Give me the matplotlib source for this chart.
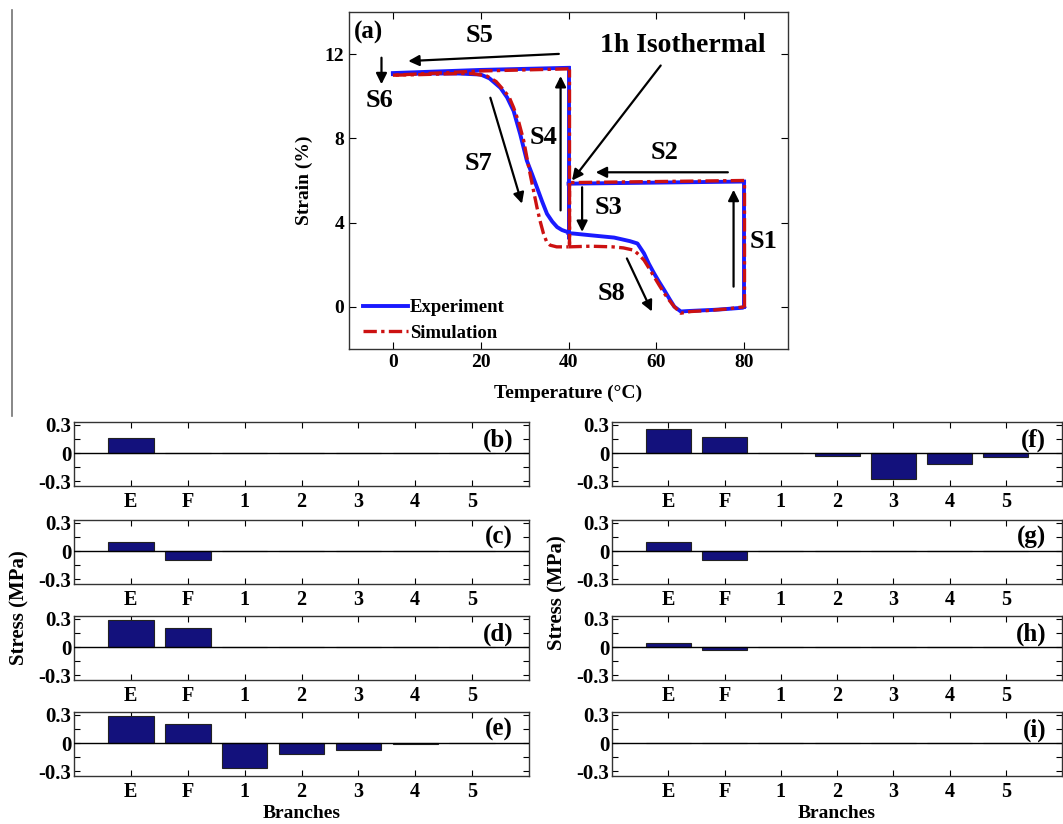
import matplotlib
matplotlib.use("Agg")
import matplotlib.pyplot as plt
from matplotlib.lines import Line2D
import numpy as np

plt.rcParams['font.family'] = ['Liberation Serif', 'DejaVu Serif']
plt.rcParams['font.weight'] = 'bold'
plt.rcParams['axes.labelweight'] = 'bold'

# ---------------- data: panel (a) ----------------
# Experiment path segments (temperature, strain %)
exp_s1_T = [80, 80];           exp_s1_e = [0.0, 5.95]
exp_s2_T = [80, 40];           exp_s2_e = [5.95, 5.85]
exp_s34_T = [40, 40, 40];      exp_s34_e = [5.85, 3.25, 11.35]
exp_s5_T = [40, 20, 0];        exp_s5_e = [11.35, 11.25, 11.1]
exp_s7_T = [0, 5, 10, 15, 20, 22, 24.5, 26, 27.5, 29, 30.5, 31.7, 32.8, 34,
            35.1, 36.3, 37.4, 38.5, 39.7]
exp_s7_e = [11.05, 11.07, 11.08, 11.08, 11.03, 10.85, 10.4, 9.95, 9.3, 8.2,
            6.95, 6.3, 5.68, 5.0, 4.42, 4.05, 3.79, 3.65, 3.56]
exp_s8_T = [40, 41.2, 45, 50.4, 54, 55.7, 57.2, 58.3, 59.5, 60.6, 61.8, 63,
            64.1, 65.6, 67, 70, 73.2, 76, 79.7, 80]
exp_s8_e = [3.5, 3.48, 3.4, 3.29, 3.12, 3.01, 2.54, 2.05, 1.59, 1.2, 0.80,
            0.38, 0.01, -0.22, -0.2, -0.17, -0.14, -0.1, -0.04, 0.0]

# Simulation path segments
sim_s1_T = [80, 80];           sim_s1_e = [0.0, 6.0]
sim_s2_T = [80, 40];           sim_s2_e = [6.0, 5.9]
sim_s34_T = [40, 40, 40];      sim_s34_e = [5.9, 3.0, 11.3]
sim_s5_T = [40, 20, 0];        sim_s5_e = [11.3, 11.2, 11.0]
sim_s7_T = [0, 5, 10, 15, 18, 21.4, 23.5, 25.2, 26.5, 27.5, 28.7, 29.8, 30.6,
            31.4, 32.1, 32.8, 33.5, 34.3, 35, 35.8, 37.3, 40]
sim_s7_e = [11.0, 11.02, 11.05, 11.08, 11.08, 10.96, 10.7, 10.3, 9.95, 9.46,
            8.75, 7.89, 7.0, 6.16, 5.45, 4.74, 4.1, 3.48, 3.1, 2.93, 2.85, 2.85]
sim_s8_T = [40, 45, 50, 52.5, 54.9, 56, 57.2, 58.3, 59.5, 60.6, 61.8, 63,
            64.1, 65.6, 67.9, 72, 76, 80]
sim_s8_e = [2.85, 2.88, 2.85, 2.8, 2.69, 2.48, 2.22, 1.85, 1.43, 1.05, 0.65,
            0.3, 0.01, -0.30, -0.22, -0.17, -0.1, 0.0]

# ---------------- data: bar panels ----------------
branches = ['E', 'F', '1', '2', '3', '4', '5']
stress_b = [0.16, 0, 0, 0, 0, 0, 0]
stress_c = [0.10, -0.10, 0, 0, 0, 0, 0]
stress_d = [0.29, 0.20, 0, 0, 0, 0, 0]
stress_e = [0.29, 0.20, -0.26, -0.115, -0.07, -0.015, 0]
stress_f = [0.26, 0.17, 0, -0.03, -0.275, -0.115, -0.045]
stress_g = [0.10, -0.10, 0, 0, 0, 0, 0]
stress_h = [0.04, -0.035, 0, 0, 0, 0, 0]
stress_i = [0, 0, 0, 0, 0, 0, 0]

W, H = 1063, 824
fig = plt.figure(figsize=(W / 100, H / 100), dpi=100)


def ax_px(left, top, right, bottom):
    return fig.add_axes([left / W, 1 - bottom / H, (right - left) / W, (bottom - top) / H])


BLUE = '#1a1aff'
RED = '#cc1111'
simstyle = (0, (4, 1.3, 1, 1.3))

# ---------------- panel (a) ----------------
ax = ax_px(349, 12, 788, 349)
exp_segs = [(exp_s1_T, exp_s1_e), (exp_s2_T, exp_s2_e), (exp_s34_T, exp_s34_e),
            (exp_s5_T, exp_s5_e), (exp_s7_T, exp_s7_e), (exp_s8_T, exp_s8_e)]
sim_segs = [(sim_s1_T, sim_s1_e), (sim_s2_T, sim_s2_e), (sim_s34_T, sim_s34_e),
            (sim_s5_T, sim_s5_e), (sim_s7_T, sim_s7_e), (sim_s8_T, sim_s8_e)]
for i, (t, e) in enumerate(exp_segs):
    ax.plot(t, e, color=BLUE, lw=2.8, solid_joinstyle='round',
            label='Experiment' if i == 0 else None, zorder=3)
for i, (t, e) in enumerate(sim_segs):
    ax.plot(t, e, color=RED, lw=2.4, linestyle=simstyle,
            label='Simulation' if i == 0 else None, zorder=4)

ax.set_xlim(-10, 90)
ax.set_ylim(-2, 14)
ax.set_xticks([0, 20, 40, 60, 80])
ax.set_yticks([0, 4, 8, 12])
ax.tick_params(direction='in', top=True, right=True, length=5, labelsize=14, width=0.8)
for lab in ax.get_xticklabels() + ax.get_yticklabels():
    lab.set_fontweight('bold')
ax.set_xlabel('Temperature (°C)', fontsize=14, fontweight='bold', labelpad=10)
ax.set_ylabel('Strain (%)', fontsize=14, fontweight='bold', labelpad=8)
for s in ax.spines.values():
    s.set_linewidth(1.0)
    s.set_color('#333333')

leg = ax.legend(loc='lower left', bbox_to_anchor=(0.0, -7 / 337), frameon=False,
                handlelength=2.4, handletextpad=0.1, labelspacing=0.45,
                borderaxespad=0.25, borderpad=0.5,
                prop={'weight': 'bold', 'size': 13.5})

akw = dict(arrowstyle='-|>', color='k', lw=1.6, mutation_scale=16, shrinkA=0, shrinkB=0)
arrows = [((37.8, 12.01), (3.5, 11.67)),   # S5
          ((-2.6, 11.83), (-2.6, 10.57)),  # S6
          ((61.0, 11.46), (40.8, 6.0)),    # isothermal
          ((76.3, 6.39), (46.2, 6.39)),    # S2
          ((43.1, 5.68), (43.1, 3.56)),    # S3
          ((38.2, 4.58), (38.2, 10.96)),   # S4
          ((22.2, 9.93), (29.4, 4.90)),    # S7
          ((77.6, 0.96), (77.6, 5.56)),    # S1
          ((53.3, 2.30), (59.0, -0.22))]   # S8
for (x0, y0), (x1, y1) in arrows:
    ax.annotate('', xy=(x1, y1), xytext=(x0, y0), arrowprops=akw)

tkw = dict(fontsize=19, fontweight='bold', ha='center', va='center')
ax.text(19.7, 12.88, 'S5', **tkw)
ax.text(-3.0, 9.78, 'S6', **tkw)
ax.text(66.0, 12.41, '1h Isothermal', fontsize=20, fontweight='bold', ha='center', va='center')
ax.text(61.8, 7.34, 'S2', **tkw)
ax.text(49.2, 4.74, 'S3', **tkw)
ax.text(34.4, 8.05, 'S4', **tkw)
ax.text(19.5, 6.79, 'S7', **tkw)
ax.text(84.4, 3.09, 'S1', **tkw)
ax.text(49.8, 0.65, 'S8', **tkw)
ax.text(-8.9, 13.05, '(a)', fontsize=18, fontweight='bold', ha='left', va='center')

# ---------------- bar panels ----------------
tops = [422, 520, 616, 712]
hgt = 64
left_cols = [(74, 529), (612, 1062)]
panel_data = [[(stress_b, '(b)'), (stress_c, '(c)'), (stress_d, '(d)'), (stress_e, '(e)')],
              [(stress_f, '(f)'), (stress_g, '(g)'), (stress_h, '(h)'), (stress_i, '(i)')]]
xpos = np.arange(1, len(branches) + 1)
BAR = '#13117c'
for c, (l, r) in enumerate(left_cols):
    for k, top in enumerate(tops):
        vals, lab = panel_data[c][k]
        bx = ax_px(l, top, r, top + hgt)
        bx.bar(xpos, vals, width=0.8, color=BAR, edgecolor='#222222', linewidth=0.8, zorder=2)
        bx.axhline(0, color='k', lw=1.0, zorder=3)
        bx.set_xlim(0, 8)
        bx.set_ylim(-0.35, 0.33)
        bx.set_xticks(xpos)
        bx.set_xticklabels(branches)
        bx.set_yticks([-0.3, -0.15, 0, 0.15, 0.3])
        bx.set_yticklabels(['-0.3', '', '0', '', '0.3'])
        bx.tick_params(direction='in', top=True, right=True, length=4, labelsize=15,
                       width=0.8, pad=2)
        bx.tick_params(axis='x', pad=4, labelsize=14.5)
        for t in bx.get_xticklabels() + bx.get_yticklabels():
            t.set_fontweight('bold')
        for s in bx.spines.values():
            s.set_linewidth(1.0)
            s.set_color('#333333')
        bx.text(0.965, 0.72, lab, transform=bx.transAxes, fontsize=18,
                fontweight='bold', ha='right', va='center')
    # x-axis title under the bottom panel of each column
    fig.text((l + r) / 2 / W, 1 - 813 / H, 'Branches', fontsize=14,
             fontweight='bold', ha='center', va='center')

fig.text(19 / W, 1 - 608 / H, 'Stress (MPa)', rotation=90, fontsize=15,
         fontweight='bold', ha='center', va='center')
fig.text(557 / W, 1 - 593 / H, 'Stress (MPa)', rotation=90, fontsize=15,
         fontweight='bold', ha='center', va='center')

fig.add_artist(Line2D([12 / W, 12 / W], [1 - 10 / H, 1 - 416 / H], color='0.45', lw=1.2))

fig.savefig('out.png', dpi=100)
